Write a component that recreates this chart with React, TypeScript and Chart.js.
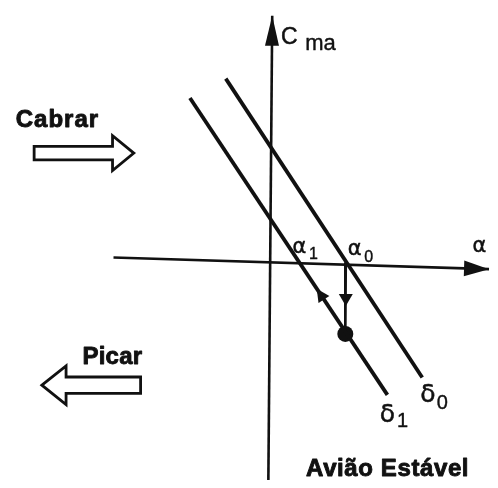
import React, { useEffect, useRef } from "react";
import { Chart, registerables } from "chart.js";

Chart.register(...registerables);

// Moment curve Cma(α) for two elevator settings δ0 and δ1 (schematic units)
const deltaZero = [
  { x: -4.6, y: 19.0 },
  { x: 15.7, y: -11.9 },
];
const deltaOne = [
  { x: -8.3, y: 17.0 },
  { x: 12.1, y: -13.7 },
];
// Axes (α horizontal, Cma vertical); the last point is the arrow tip
const alphaAxis = [
  { x: -16.2, y: 0.5 },
  { x: 22.6, y: -0.7 },
];
const cmAxis = [
  { x: -0.2, y: -22.5 },
  { x: 0.2, y: 25.5 },
];
// Drop from α0 onto the δ1 line, and the resulting trim point
const dropLine = [
  { x: 7.8, y: 0.0 },
  { x: 7.75, y: -7.4 },
];
const trimPoint = [{ x: 7.75, y: -7.4 }];
// Direction markers: tip position and a point behind it along the path
const dropMarker = { tip: { x: 7.8, y: -4.5 }, from: { x: 7.8, y: 0 } };
const deltaOneMarker = { tip: { x: 4.8, y: -2.72 }, from: { x: 12.1, y: -13.7 } };

// Block arrows: tip x, head base x, tail x, centre y, shaft half-height, head half-height
const cabrarArrow = { tip: -14.1, base: -16.3, tail: -24.4, y: 11.3, shaft: 0.7, head: 1.8 };
const picarArrow = { tip: -23.6, base: -21.1, tail: -13.4, y: -12.7, shaft: 0.85, head: 2.0 };

type Label = { text: string; x: number; y: number; font: string; spacing?: number; weight?: number };
const SANS = "'Liberation Sans', Arial, sans-serif";
const GREEK = "'DejaVu Sans', sans-serif";
const labels: Label[] = [
  { text: "C", x: 1.1, y: 22.6, font: `23px ${SANS}`, weight: 0.5 },
  { text: "ma", x: 3.6, y: 22.0, font: `22px ${SANS}`, weight: 0.4 },
  { text: "Cabrar", x: -26.3, y: 14.0, font: `bold 24px ${SANS}`, spacing: 1.0, weight: 0.9 },
  { text: "Picar", x: -19.4, y: -10.5, font: `bold 24px ${SANS}`, spacing: 0.2, weight: 0.9 },
  { text: "Avião Estável", x: 3.7, y: -22.1, font: `bold 24px ${SANS}`, spacing: 0.6, weight: 0.9 },
  { text: "α", x: 20.9, y: 1.1, font: `21px ${GREEK}`, weight: 0.5 },
  { text: "α", x: 2.3, y: 1.0, font: `21px ${GREEK}`, weight: 0.5 },
  { text: "1", x: 4.0, y: 0.3, font: `16px ${SANS}`, weight: 0.4 },
  { text: "α", x: 8.0, y: 0.8, font: `21px ${GREEK}`, weight: 0.5 },
  { text: "0", x: 9.7, y: 0.0, font: `16px ${SANS}`, weight: 0.4 },
  { text: "δ", x: 15.5, y: -14.4, font: `25px ${GREEK}`, weight: 0.5 },
  { text: "0", x: 17.2, y: -15.2, font: `20px ${SANS}`, weight: 0.4 },
  { text: "δ", x: 11.3, y: -16.5, font: `25px ${GREEK}`, weight: 0.5 },
  { text: "1", x: 13.1, y: -17.0, font: `20px ${SANS}`, weight: 0.4 },
];

const INK = "#111111";

type P = { x: number; y: number };

function drawHead(ctx: CanvasRenderingContext2D, tip: P, from: P, len: number, half: number) {
  const dx = tip.x - from.x;
  const dy = tip.y - from.y;
  const d = Math.hypot(dx, dy) || 1;
  const ux = dx / d;
  const uy = dy / d;
  const bx = tip.x - ux * len;
  const by = tip.y - uy * len;
  ctx.beginPath();
  ctx.moveTo(tip.x, tip.y);
  ctx.lineTo(bx - uy * half, by + ux * half);
  ctx.lineTo(bx + uy * half, by - ux * half);
  ctx.closePath();
  ctx.fill();
}

const decorPlugin = {
  id: "diagramDecor",
  afterDatasetsDraw(chart: any) {
    const { ctx } = chart;
    const xs = chart.scales.x;
    const ys = chart.scales.y;
    const px = (p: P): P => ({ x: xs.getPixelForValue(p.x), y: ys.getPixelForValue(p.y) });
    ctx.save();
    ctx.fillStyle = INK;
    ctx.strokeStyle = INK;

    // axis arrow heads
    drawHead(ctx, px(cmAxis[1]), px(cmAxis[0]), 30, 7);
    drawHead(ctx, px(alphaAxis[1]), px(alphaAxis[0]), 25, 8);
    // direction markers
    drawHead(ctx, px(dropMarker.tip), px(dropMarker.from), 12, 7);
    drawHead(ctx, px(deltaOneMarker.tip), px(deltaOneMarker.from), 13, 6.5);

    // hollow block arrows
    const block = (a: typeof cabrarArrow) => {
      const cy = ys.getPixelForValue(a.y);
      const sh = Math.abs(ys.getPixelForValue(a.y + a.shaft) - cy);
      const hh = Math.abs(ys.getPixelForValue(a.y + a.head) - cy);
      const tx = xs.getPixelForValue(a.tip);
      const bx = xs.getPixelForValue(a.base);
      const lx = xs.getPixelForValue(a.tail);
      ctx.beginPath();
      ctx.moveTo(tx, cy);
      ctx.lineTo(bx, cy - hh);
      ctx.lineTo(bx, cy - sh);
      ctx.lineTo(lx, cy - sh);
      ctx.lineTo(lx, cy + sh);
      ctx.lineTo(bx, cy + sh);
      ctx.lineTo(bx, cy + hh);
      ctx.closePath();
      ctx.fillStyle = "#ffffff";
      ctx.fill();
      ctx.lineWidth = 2.8;
      ctx.lineJoin = "miter";
      ctx.stroke();
      ctx.fillStyle = INK;
    };
    block(cabrarArrow);
    block(picarArrow);

    // labels (a thin outline gives the heavy printed look)
    ctx.textBaseline = "alphabetic";
    ctx.textAlign = "left";
    ctx.lineJoin = "round";
    for (const l of labels) {
      ctx.font = l.font;
      (ctx as any).letterSpacing = `${l.spacing ?? 0}px`;
      const p = px({ x: l.x, y: l.y });
      ctx.fillText(l.text, p.x, p.y);
      if (l.weight) {
        ctx.lineWidth = l.weight;
        ctx.strokeText(l.text, p.x, p.y);
      }
    }
    (ctx as any).letterSpacing = "0px";
    ctx.restore();
  },
};

export default function App() {
  const ref = useRef<HTMLCanvasElement | null>(null);

  useEffect(() => {
    if (!ref.current) return;
    const line = (data: P[], width: number) => ({
      data,
      showLine: true,
      borderColor: INK,
      backgroundColor: INK,
      borderWidth: width,
      pointRadius: 0,
      borderCapStyle: "butt" as const,
    });
    const chart = new Chart(ref.current, {
      type: "scatter",
      data: {
        datasets: [
          line(alphaAxis, 2.6),
          line(cmAxis, 2.6),
          line(deltaZero, 3.8),
          line(deltaOne, 3.8),
          line(dropLine, 2.6),
          {
            data: trimPoint,
            pointRadius: 8,
            pointBackgroundColor: INK,
            pointBorderWidth: 0,
            showLine: false,
          },
        ],
      },
      options: {
        animation: false,
        responsive: false,
        events: [],
        layout: { padding: 0 },
        plugins: { legend: { display: false }, tooltip: { enabled: false } },
        scales: {
          x: { type: "linear", min: -27.1, max: 22.7, display: false },
          y: { type: "linear", min: -22.5, max: 26.3, display: false },
        },
      },
      plugins: [decorPlugin],
    });
    return () => chart.destroy();
  }, []);

  return (
    <div style={{ position: "absolute", left: 0, top: 0, width: 498, height: 488, background: "#ffffff" }}>
      <canvas ref={ref} width={498} height={488} style={{ display: "block" }} />
    </div>
  );
}
